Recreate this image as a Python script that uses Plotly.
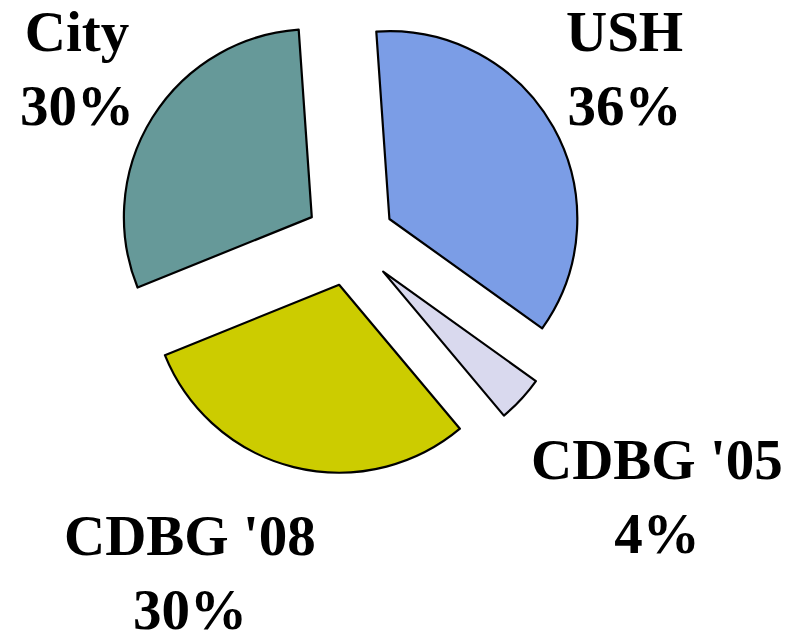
import plotly.graph_objects as go

labels = ["USH", "CDBG '05", "CDBG '08", "City"]
values = [36, 4, 30, 30]
colors = ["#7B9DE6", "#D9D9EE", "#CCCC00", "#669999"]

# label placement (paper coords) for each slice's text block
label_x = [0.771, 0.811, 0.228, 0.086]
label_y = [0.904, 0.229, 0.109, 0.904]

total = sum(values)

fig = go.Figure(go.Pie(
    labels=labels,
    values=values,
    sort=False,
    direction="clockwise",
    rotation=-4,
    pull=[0.24] * len(values),
    marker=dict(colors=colors, line=dict(color="black", width=2.2)),
    textinfo="none",
    hoverinfo="label+percent",
    showlegend=False,
    domain=dict(x=[0.1363, 0.7188], y=[0.2638, 1.0]),
))

for lab, v, x, y in zip(labels, values, label_x, label_y):
    fig.add_annotation(
        x=x, y=y, xref="paper", yref="paper",
        text=f"<b>{lab}<br>{v / total * 100:.0f}%</b>",
        showarrow=False, xanchor="center", yanchor="middle",
        font=dict(family="Liberation Serif", size=57, color="black"),
    )

fig.update_layout(
    width=800, height=633,
    margin=dict(l=0, r=0, t=0, b=0),
    paper_bgcolor="white", plot_bgcolor="white",
)

fig.write_html("out.html")
